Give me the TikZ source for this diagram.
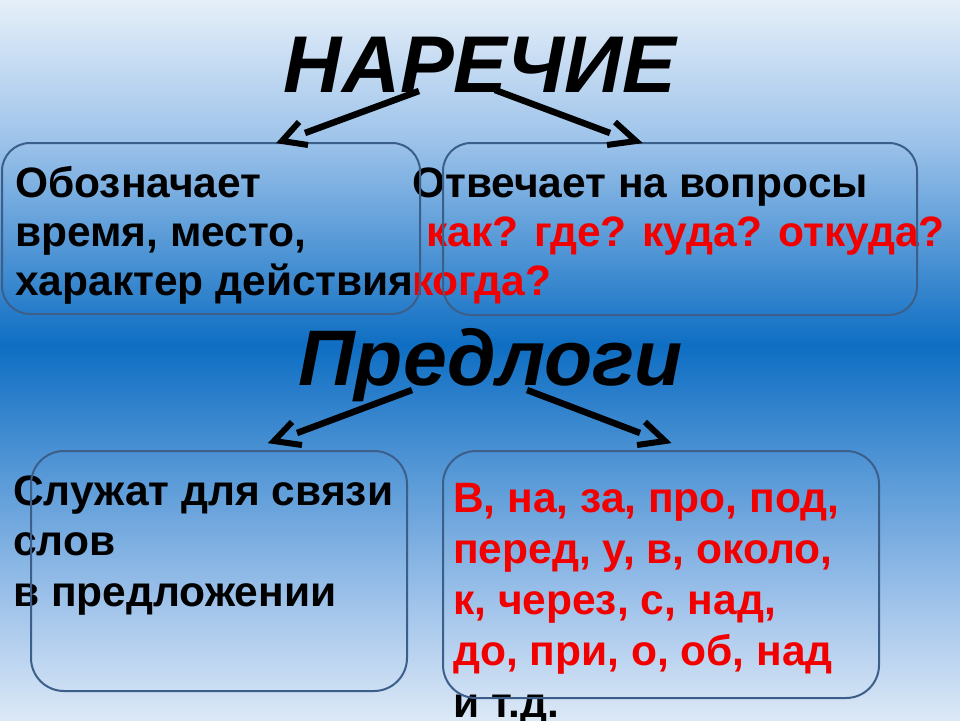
\documentclass[tikz,border=0pt]{standalone}
\usepackage{fontspec}
\setmainfont{Liberation Sans}
\definecolor{bg0}{HTML}{E6EFF9}
\definecolor{bg1}{HTML}{9DC3EA}
\definecolor{bg2}{HTML}{0E6EC3}
\definecolor{bg3}{HTML}{9EC2EA}
\definecolor{bg4}{HTML}{DCE8F6}
\definecolor{boxc}{HTML}{3C5F8A}
\definecolor{tred}{HTML}{F20000}
\begin{document}
\begin{tikzpicture}[x=1pt,y=-1pt,
  box/.style={draw=boxc, line width=2pt, rounded corners=28pt, inner sep=0pt, anchor=north west},
  shaft/.style={line width=6.5pt, line cap=butt},
  head/.style={line width=6pt, line cap=butt, line join=miter},
  txt/.style={inner sep=0pt, anchor=base west, align=left, font=\bfseries\fontsize{42.5}{49}\selectfont},
  ttl/.style={inner sep=0pt, anchor=base, font=\bfseries\itshape\fontsize{80.5}{80.5}\selectfont}]
\useasboundingbox (0,0) rectangle (960,720);
\shade[top color=bg0, bottom color=bg1] (0,0) rectangle (960,141);
\shade[top color=bg1, bottom color=bg2] (0,140) rectangle (960,346);
\shade[top color=bg2, bottom color=bg3] (0,345) rectangle (960,601);
\shade[top color=bg3, bottom color=bg4] (0,600) rectangle (960,720);
% titles
\node[ttl] (nar) at (480,92) {НАРЕЧИЕ};
\node[ttl, font=\bfseries\itshape\fontsize{78.8}{78.8}\selectfont] (pred) at (490.5,385) {Предлоги};
% texts (anchored at the baseline of their last line)
\node[txt] (t1) at (15,295) {Обозначает\\время, место,\\характер действия};
\node[txt] (t2) at (412,295) {Отвечает на вопросы\\{\color{tred}\hspace*{14pt}как? где? куда? откуда?}\\{\color{tred}когда?}};
\node[txt, font=\bfseries\fontsize{42.5}{50.5}\selectfont] (t3) at (13,606) {Служат для связи\\слов\\в предложении};
\node[txt, text=tred, font=\bfseries\fontsize{42.5}{51.2}\selectfont] (t4) at (453,717) {В, на, за, про, под,\\перед, у, в, около,\\к, через, с, над,\\до, при, о, об, над\\{\color{black}и т.д.}};
% boxes
\node[box, minimum width=418pt, minimum height=171pt] (b1) at (1,142) {};
\node[box, minimum width=474pt, minimum height=172pt] (b2) at (442,142) {};
\node[box, minimum width=376pt, minimum height=240pt, rounded corners=33pt] (b3) at (30,450) {};
\node[box, minimum width=436pt, minimum height=247pt, rounded corners=33pt] (b4) at (442,450) {};
% arrow coordinates
\coordinate (s1) at (419,91);  \coordinate (e1) at (305,133);
\coordinate (p1) at (282,141); \coordinate (p1a) at (299,122); \coordinate (p1b) at (308,145);
\coordinate (s2) at (495,90);  \coordinate (e2) at (610,133);
\coordinate (p2) at (636,141); \coordinate (p2a) at (615,122); \coordinate (p2b) at (607,145);
\coordinate (s3) at (412,390); \coordinate (e3) at (297,433);
\coordinate (p3) at (274,441); \coordinate (p3a) at (292,422); \coordinate (p3b) at (302,445);
\coordinate (s4) at (527,390); \coordinate (e4) at (640,433);
\coordinate (p4) at (665,441); \coordinate (p4a) at (645,422); \coordinate (p4b) at (637,445);
\draw[shaft] (s1) -- (e1);
\draw[head] (p1a) -- (p1) -- (p1b);
\draw[shaft] (s2) -- (e2);
\draw[head] (p2a) -- (p2) -- (p2b);
\draw[shaft] (s3) -- (e3);
\draw[head] (p3a) -- (p3) -- (p3b);
\draw[shaft] (s4) -- (e4);
\draw[head] (p4a) -- (p4) -- (p4b);
\end{tikzpicture}
\end{document}
